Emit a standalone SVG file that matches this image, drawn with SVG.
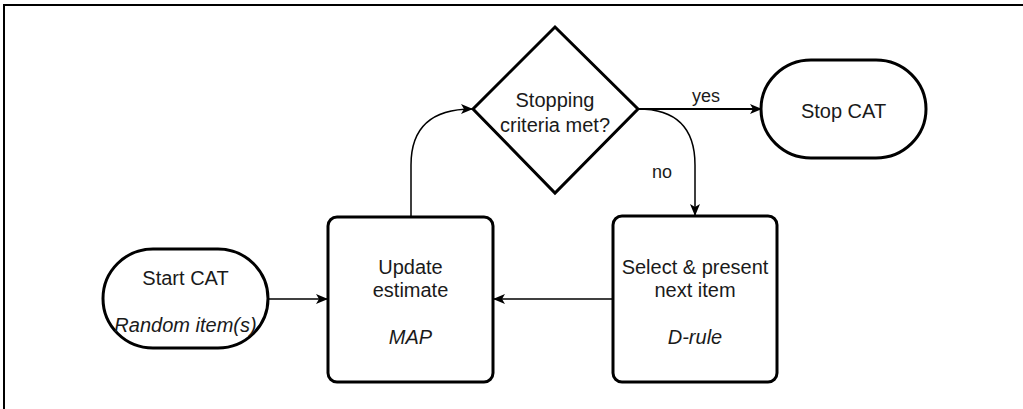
<svg xmlns="http://www.w3.org/2000/svg" width="1023" height="409" viewBox="0 0 1023 409">
<style>
.node{fill:#fff;stroke:#000;stroke-width:3}
.t{font-family:"Liberation Sans",Arial,sans-serif;font-size:20px;fill:#1a1a1a;text-anchor:middle;dominant-baseline:central}
.i{font-style:italic}
.lbl{font-size:18px}
.c{fill:none;stroke:#000;stroke-width:1.5}
.frame{stroke:#000;stroke-width:2;fill:none}
</style>
<defs>
<marker id="arr" viewBox="0 0 12 10" refX="11" refY="5" markerWidth="12" markerHeight="10" markerUnits="userSpaceOnUse" orient="auto">
<path d="M0,0 L12,5 L0,10 L3,5 Z" fill="#000"/>
</marker>
</defs>
<rect width="1023" height="409" fill="#fff"/>
<path class="frame" d="M4,409 L4,5 L1023,5"/>
<g id="connectors">
<path class="c" d="M268,299 L327,299" marker-end="url(#arr)"/>
<path class="c" d="M613,299 L494,299" marker-end="url(#arr)"/>
<path class="c" d="M411,216 L411,165 Q411,109 472,109" marker-end="url(#arr)"/>
<path class="c" style="stroke-width:2" d="M638,109 L761,109" marker-end="url(#arr)"/>
<path class="c" d="M638,109 Q695,109 695,165 L695,215" marker-end="url(#arr)"/>
<text class="t lbl" x="706" y="96">yes</text>
<text class="t lbl" x="662" y="172">no</text>
</g>
<g id="start">
<rect class="node" x="103" y="249" width="165" height="99" rx="50" ry="49.5"/>
<text class="t" x="185.5" y="278">Start CAT</text>
<text class="t i" x="185.5" y="325">Random item(s)</text>
</g>
<g id="update">
<rect class="node" x="328" y="217" width="165" height="165" rx="9"/>
<text class="t" x="410.5" y="267">Update</text>
<text class="t" x="410.5" y="290">estimate</text>
<text class="t i" x="410.5" y="337">MAP</text>
</g>
<g id="decision">
<polygon class="node" points="555,27 638,109 555,193 473,109"/>
<text class="t" x="555" y="100">Stopping</text>
<text class="t" x="555" y="125">criteria met?</text>
</g>
<g id="stop">
<rect class="node" x="761" y="60" width="165" height="98" rx="50" ry="49"/>
<text class="t" x="843.5" y="111">Stop CAT</text>
</g>
<g id="select">
<rect class="node" x="613" y="216" width="164" height="166" rx="9"/>
<text class="t" x="695" y="267">Select &amp; present</text>
<text class="t" x="695" y="290">next item</text>
<text class="t i" x="695" y="337">D-rule</text>
</g>
</svg>
